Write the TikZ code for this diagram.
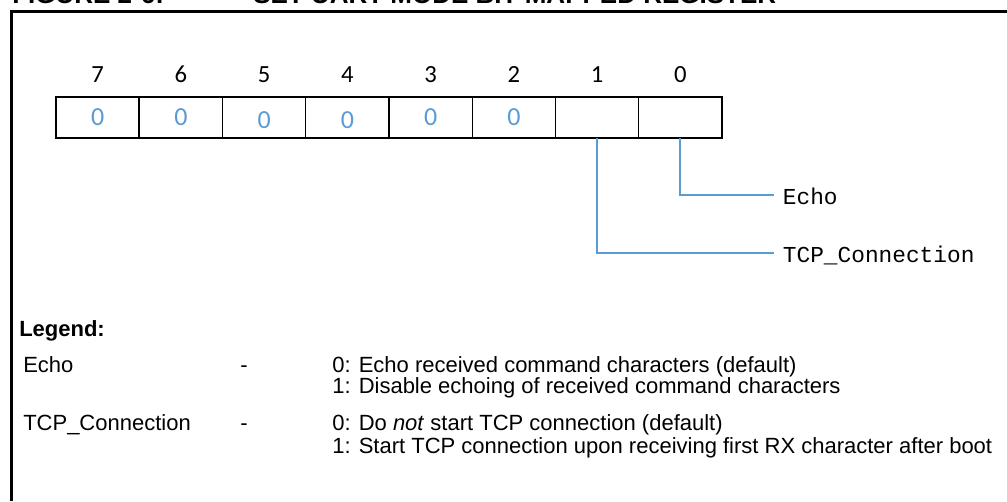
\documentclass[tikz,border=0pt]{standalone}
\usepackage{fontspec}
\setmainfont{Liberation Sans}
\newfontfamily\calibrifont{Carlito}
\newfontfamily\courierfont{Liberation Mono}
\usetikzlibrary{positioning}
\definecolor{regblue}{RGB}{91,155,213}
\tikzset{
  cell/.style={draw, line width=1.1pt, minimum width=62.44pt, minimum height=30.75pt,
    inner sep=0pt, outer sep=0pt, text height=12.3pt, text depth=0pt,
    font=\calibrifont\fontsize{19.5}{20}\selectfont, text=regblue},
  bitnum/.style={inner sep=0pt, font=\calibrifont\fontsize{18.5}{20}\selectfont},
  link/.style={draw=regblue, line width=1.5pt},
  regname/.style={inner sep=0pt, inner xsep=6.5pt, text height=13.5pt, text depth=0pt,
    font=\courierfont\fontsize{17.1}{18}\selectfont},
  legtext/.style={anchor=base west, inner sep=0pt, font=\fontsize{16.5}{18}\selectfont},
  figtitle/.style={anchor=base west, inner sep=0pt, font=\bfseries\fontsize{19.5}{20}\selectfont}
}

\begin{document}
\begin{tikzpicture}[x=0.75pt, y=0.75pt]
    \useasboundingbox (0,0) rectangle (1007,501);
    \clip (0,0) rectangle (1007,501);
    % frame and title
    \node[figtitle] (fignum) at (12,497) {FIGURE 2-6:};
    \node[figtitle] (figname) at (253,497) {SET UART MODE BIT-MAPPED REGISTER};
    \draw[line width=1.9pt] (11.3,0) -- (11.3,489.7) -- (1007,489.7);

    % register cells
    \node[cell] (b7) at (97.6,383.5) {0};
    \node[cell, right=0pt of b7] (b6) {0};
    \node[cell, right=0pt of b6] (b5) {\raisebox{-2.25pt}{0}};
    \node[cell, right=0pt of b5] (b4) {\raisebox{-2.25pt}{0}};
    \node[cell, right=0pt of b4] (b3) {0};
    \node[cell, right=0pt of b3] (b2) {0};
    \node[cell, right=0pt of b2] (b1) {};
    \node[cell, right=0pt of b1] (b0) {};

    % bit numbers
    \node[bitnum, above=10.5pt of b7] (n7) {7};
    \node[bitnum, above=10.5pt of b6] (n6) {6};
    \node[bitnum, above=10.5pt of b5] (n5) {5};
    \node[bitnum, above=10.5pt of b4] (n4) {4};
    \node[bitnum, above=10.5pt of b3] (n3) {3};
    \node[bitnum, above=10.5pt of b2] (n2) {2};
    \node[bitnum, above=10.5pt of b1] (n1) {1};
    \node[bitnum, above=10.5pt of b0] (n0) {0};

    % bit names
    \coordinate (echoend) at (774,306);
    \coordinate (tcpend) at (774,248);
    \node[regname, right=0pt of echoend] (echo) {Echo};
    \node[regname, right=0pt of tcpend] (tcp) {TCP\_Connection};
    \draw[link] (b0.south) |- (echo.west);
    \draw[link] (b1.south) |- (tcp.west);

    % legend
    \node[legtext, font=\bfseries\fontsize{16.5}{18}\selectfont] (legend) at (19,165) {Legend:};
    \node[legtext] (kecho) at (23,129) {Echo};
    \node[legtext] (decho) at (240,129) {-};
    \node[legtext] (echo0) at (332,129) {0: Echo received command characters (default)};
    \node[legtext] (echo1) at (332,108) {1: Disable echoing of received command characters};
    \node[legtext] (ktcp) at (23,71) {TCP\_Connection};
    \node[legtext] (dtcp) at (240,71) {-};
    \node[legtext] (tcp0) at (332,71) {0: Do \textit{not} start TCP connection (default)};
    \node[legtext] (tcp1) at (332,48) {1: Start TCP connection upon receiving first RX character after boot};
\end{tikzpicture}
\end{document}
